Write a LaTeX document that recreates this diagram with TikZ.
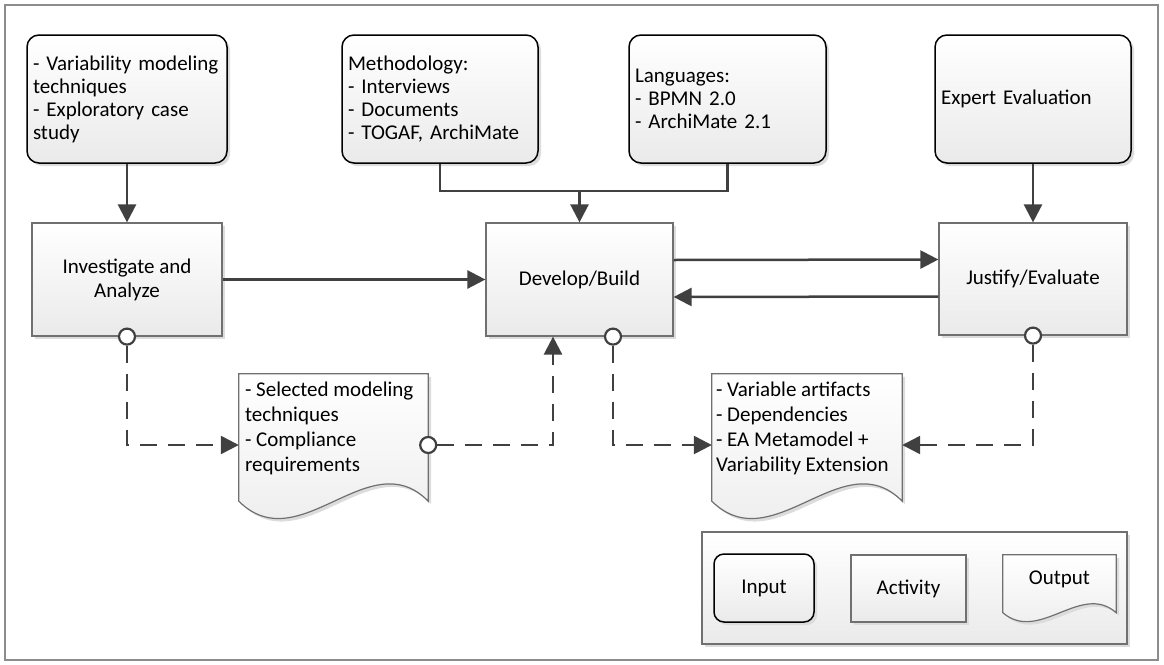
\documentclass[tikz,border=0pt]{standalone}
\usepackage{fontspec}
\setmainfont{Carlito}
\usetikzlibrary{arrows.meta,calc,shadows}

\definecolor{linegray}{HTML}{404040}
\definecolor{boxgray}{HTML}{707070}
\definecolor{fillend}{HTML}{EAEAEA}
\definecolor{shadegray}{HTML}{DCDCDC}
\definecolor{framegray}{HTML}{8C8C8C}

\tikzset{
  shaded/.style={top color=white, bottom color=fillend,
    drop shadow={shadow xshift=3pt, shadow yshift=-3pt, fill=shadegray, opacity=1}},
  inputbox/.style={shaded, draw=black, line width=1.5pt, rounded corners=12pt,
    align=left, inner xsep=6pt, inner ysep=0pt, minimum height=128pt, text width=#1,
    font=\fontsize{21}{23}\selectfont},
  actbox/.style={shaded, draw=boxgray, line width=1.2pt, align=center,
    inner sep=0pt, font=\fontsize{21}{24}\selectfont},
  docbox/.style={draw=none, inner sep=0pt, minimum width=#1},
  doctext/.style={anchor=north west, align=left, inner xsep=6pt, inner ysep=8pt,
    font=\fontsize{21}{25}\selectfont},
  docline/.style={draw=boxgray, line width=1.2pt, top color=white, bottom color=fillend},
  legendbox/.style={shaded, draw=boxgray, line width=1.2pt},
  port/.style={circle, draw=linegray, fill=white, line width=2.2pt, minimum size=16pt, inner sep=0pt},
  plainline/.style={draw=linegray, line width=2.5pt},
  conn/.style={plainline, -{Triangle[length=18pt,width=18pt]}},
  dconn/.style={conn, dash pattern=on 17pt off 11pt},
}

% document outline: flat top, straight sides, wavy bottom
\newcommand\docshape[3]{%
  \fill[shadegray, transform canvas={shift={(3pt,-3pt)}}]
    (#1.north west) -- (#1.north east) -- ($(#1.south east)+(0,-#2)$)
    .. controls ($(#1.south east)!0.31!(#1.south west)+(0,-#2-#3)$)
       and ($(#1.south west)!0.32!(#1.south east)+(0,-#2+#3)$)
    .. ($(#1.south west)+(0,-#2)$) -- cycle;
  \path[docline]
    (#1.north west) -- (#1.north east) -- ($(#1.south east)+(0,-#2)$)
    .. controls ($(#1.south east)!0.31!(#1.south west)+(0,-#2-#3)$)
       and ($(#1.south west)!0.32!(#1.south east)+(0,-#2+#3)$)
    .. ($(#1.south west)+(0,-#2)$) -- cycle;
}

\begin{document}
\begin{tikzpicture}[x=1pt, y=-1pt]
\useasboundingbox (0,0) rectangle (1164,664);
\draw[framegray, line width=1.5pt] (5,5) rectangle (1158,660);

% inputs
\node[inputbox=188pt] (in1) at (127,99) {- Variability modeling\\techniques\\- Exploratory case\\study};
\node[inputbox=184pt] (in2) at (440,99) {Methodology:\\- Interviews\\- Documents\\- TOGAF, ArchiMate};
\node[inputbox=185pt] (in3) at (727.5,99) {Languages:\\- BPMN 2.0\\- ArchiMate 2.1};
\node[inputbox=184pt] (in4) at (1033,99) {Expert Evaluation};

% activities
\node[actbox, minimum width=190pt, minimum height=113pt] (inv) at (127,279.5) {Investigate and\\Analyze};
\node[actbox, minimum width=187pt, minimum height=113pt] (dev) at (579.5,279.5) {Develop/Build};
\node[actbox, minimum width=188pt, minimum height=112pt] (jus) at (1033,279) {Justify/Evaluate};

% outputs
\node[docbox=189pt, minimum height=142pt] (d1) at (333.5,445) {};
\docshape{d1}{15}{60}
\node[doctext] (d1t) at (d1.north west) {- Selected modeling\\techniques\\- Compliance\\requirements};
\node[docbox=190pt, minimum height=142pt] (d2) at (807,445) {};
\docshape{d2}{15}{60}
\node[doctext, inner xsep=4pt] (d2t) at (d2.north west) {- Variable artifacts\\- Dependencies\\- EA Metamodel +\\Variability Extension};

% solid connectors
\coordinate (m) at (579.5,191);
\draw[conn] (in1) -- (inv);
\draw[conn] (in4) -- (jus);
\draw[plainline] (in2.south) |- (m) -| (in3.south);
\draw[conn] (m) -- (dev.north);
\draw[conn] (inv) -- (dev);
\draw[conn] ([yshift=19.5pt]dev.east) -- ([yshift=19.5pt]jus.west);
\draw[conn] ([yshift=-17.5pt]jus.west) -- ([yshift=-17.5pt]dev.east);

% dashed output links
\node[port] (p1) at (inv.south) {};
\node[port] (p2) at ([xshift=33.5pt]dev.south) {};
\node[port] (p3) at (jus.south) {};
\node[port] (p4) at (d1.east) {};
\draw[dconn] (p1.south) |- (d1.west);
\draw[dconn] (p4.east) -| ([xshift=-26.5pt]dev.south);
\draw[dconn] (p2.south) |- (d2.west);
\draw[dconn] (p3.south) |- (d2.east);

% legend
\node[legendbox, minimum width=425pt, minimum height=112pt] (lgd) at (914.5,588) {};
\node[inputbox=88pt, minimum height=68pt, align=center, rounded corners=10pt] (lin) at (764,588) {Input};
\node[actbox, minimum width=115pt, minimum height=67pt] (lact) at (908.5,588.5) {Activity};
\node[docbox=113pt, minimum height=68pt] (lout) at (1059.5,589) {};
\docshape{lout}{10.5}{31}
\node[font=\fontsize{21}{24}\selectfont, inner sep=0pt] (loutt) at ([yshift=10pt]lout.center) {Output};
\end{tikzpicture}
\end{document}
